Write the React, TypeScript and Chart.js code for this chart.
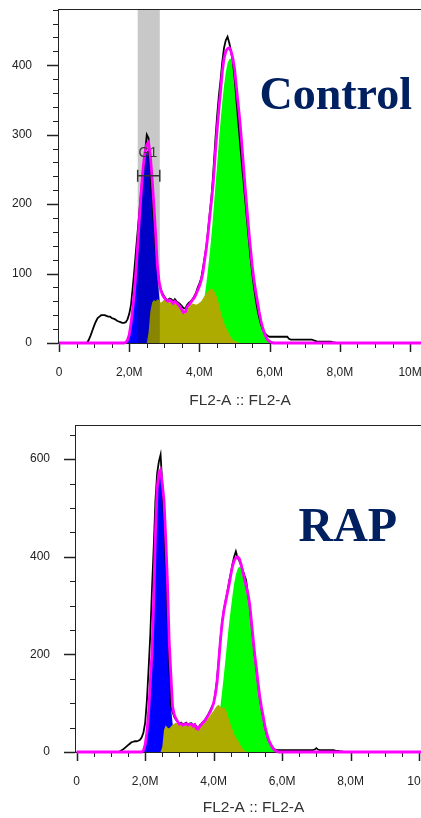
import { useEffect, useRef } from 'react';
import { Chart, registerables } from 'chart.js';

Chart.register(...registerables);

// FL2-A channel bins (millions), 0.05M wide
const FL2_BINS = [
  0.5, 0.55, 0.6, 0.65, 0.7, 0.75, 0.8, 0.85, 0.9, 0.95,
  1.0, 1.05, 1.1, 1.15, 1.2, 1.25, 1.3, 1.35, 1.4, 1.45,
  1.5, 1.55, 1.6, 1.65, 1.7, 1.75, 1.8, 1.85, 1.9, 1.95,
  2.0, 2.05, 2.1, 2.15, 2.2, 2.25, 2.3, 2.35, 2.4, 2.45,
  2.5, 2.55, 2.6, 2.65, 2.7, 2.75, 2.8, 2.85, 2.9, 2.95,
  3.0, 3.05, 3.1, 3.15, 3.2, 3.25, 3.3, 3.35, 3.4, 3.45,
  3.5, 3.55, 3.6, 3.65, 3.7, 3.75, 3.8, 3.85, 3.9, 3.95,
  4.0, 4.05, 4.1, 4.15, 4.2, 4.25, 4.3, 4.35, 4.4, 4.45,
  4.5, 4.55, 4.6, 4.65, 4.7, 4.75, 4.8, 4.85, 4.9, 4.95,
  5.0, 5.05, 5.1, 5.15, 5.2, 5.25, 5.3, 5.35, 5.4, 5.45,
  5.5, 5.55, 5.6, 5.65, 5.7, 5.75, 5.8, 5.85, 5.9, 5.95,
  6.0, 6.05, 6.1, 6.15, 6.2, 6.25, 6.3, 6.35, 6.4, 6.45,
  6.5, 6.55, 6.6, 6.65, 6.7, 6.75, 6.8, 6.85, 6.9, 6.95,
  7.0, 7.05, 7.1, 7.15, 7.2, 7.25, 7.3, 7.35, 7.4, 7.45,
  7.5, 7.55, 7.6, 7.65, 7.7, 7.75, 7.8, 7.85, 7.9, 7.95,
];
// empty channels at both ends of the axis
const EMPTY_EDGE_BINS = [0, 10.5];

// ---------- Control ----------
const CONTROL_RAW = [
  0, 0, 0, 0, 0, 0, 0, 5, 11, 18,
  25, 31, 36, 38, 40, 40, 40, 39, 38, 38,
  36, 35, 34, 32, 31, 30, 29, 29, 30, 34,
  42, 55, 80, 108, 138, 167, 196, 225, 250, 275,
  300, 295, 245, 205, 170, 135, 108, 87, 77, 71,
  67, 63, 62, 64, 63, 60, 63, 60, 58, 56,
  53, 50, 50, 55, 58, 60, 63, 67, 72, 80,
  86, 93, 108, 124, 140, 165, 190, 215, 250, 290,
  325, 355, 378, 405, 425, 436, 441, 432, 420, 405,
  382, 352, 321, 292, 263, 236, 208, 180, 152, 125,
  102, 82, 64, 49, 37, 27, 20, 15, 12, 10,
  9, 9, 9, 9, 9, 9, 9, 9, 9, 9,
  9, 6, 5, 5, 5, 5, 5, 5, 5, 5,
  5, 5, 5, 5, 5, 4, 3, 2, 2, 2,
  2, 2, 2, 2, 2, 2, 1, 1, 0, 0,
];
const CONTROL_FIT = [
  0, 0, 0, 0, 0, 0, 0, 0, 0, 0,
  0, 0, 0, 0, 0, 0, 0, 0, 0, 0,
  0, 0, 0, 0, 0, 0, 0, 0, 1, 4,
  12, 28, 50, 76, 110, 148, 188, 224, 255, 275,
  286, 289, 270, 238, 200, 158, 112, 88, 76, 69,
  65, 62, 60, 62, 60, 57, 60, 58, 55, 52,
  48, 44, 45, 52, 55, 58, 62, 65, 70, 76,
  82, 90, 102, 120, 138, 160, 185, 208, 235, 272,
  305, 335, 362, 390, 410, 420, 424, 425, 420, 410,
  395, 370, 345, 321, 290, 258, 225, 195, 165, 138,
  112, 92, 75, 60, 45, 32, 22, 14, 8, 4,
  2, 1, 0, 0, 0, 0, 0, 0, 0, 0,
  0, 0, 0, 0, 0, 0, 0, 0, 0, 0,
  0, 0, 0, 0, 0, 0, 0, 0, 0, 0,
  0, 0, 0, 0, 0, 0, 0, 0, 0, 0,
];
const CONTROL_G1 = [
  0, 0, 0, 0, 0, 0, 0, 0, 0, 0,
  0, 0, 0, 0, 0, 0, 0, 0, 0, 0,
  0, 0, 0, 0, 0, 0, 0, 0, 1, 3,
  10, 24, 45, 70, 104, 140, 180, 215, 245, 265,
  276, 278, 258, 222, 180, 138, 100, 68, 44, 26,
  14, 7, 3, 1, 0, 0, 0, 0, 0, 0,
  0, 0, 0, 0, 0, 0, 0, 0, 0, 0,
  0, 0, 0, 0, 0, 0, 0, 0, 0, 0,
  0, 0, 0, 0, 0, 0, 0, 0, 0, 0,
  0, 0, 0, 0, 0, 0, 0, 0, 0, 0,
  0, 0, 0, 0, 0, 0, 0, 0, 0, 0,
  0, 0, 0, 0, 0, 0, 0, 0, 0, 0,
  0, 0, 0, 0, 0, 0, 0, 0, 0, 0,
  0, 0, 0, 0, 0, 0, 0, 0, 0, 0,
  0, 0, 0, 0, 0, 0, 0, 0, 0, 0,
];
const CONTROL_S = [
  0, 0, 0, 0, 0, 0, 0, 0, 0, 0,
  0, 0, 0, 0, 0, 0, 0, 0, 0, 0,
  0, 0, 0, 0, 0, 0, 0, 0, 0, 0,
  0, 0, 0, 0, 0, 0, 0, 0, 0, 0,
  0, 15, 45, 58, 62, 60, 63, 62, 58, 60,
  63, 60, 58, 60, 58, 55, 58, 56, 53, 50,
  46, 42, 43, 48, 52, 55, 57, 56, 55, 56,
  58, 60, 64, 68, 72, 75, 77, 79, 76, 72,
  66, 57, 46, 37, 29, 23, 18, 13, 8, 5,
  3, 2, 1, 0, 0, 0, 0, 0, 0, 0,
  0, 0, 0, 0, 0, 0, 0, 0, 0, 0,
  0, 0, 0, 0, 0, 0, 0, 0, 0, 0,
  0, 0, 0, 0, 0, 0, 0, 0, 0, 0,
  0, 0, 0, 0, 0, 0, 0, 0, 0, 0,
  0, 0, 0, 0, 0, 0, 0, 0, 0, 0,
];
const CONTROL_G2 = [
  0, 0, 0, 0, 0, 0, 0, 0, 0, 0,
  0, 0, 0, 0, 0, 0, 0, 0, 0, 0,
  0, 0, 0, 0, 0, 0, 0, 0, 0, 0,
  0, 0, 0, 0, 0, 0, 0, 0, 0, 0,
  0, 0, 0, 0, 0, 0, 0, 0, 0, 0,
  0, 0, 0, 0, 0, 0, 0, 0, 0, 0,
  0, 0, 0, 3, 5, 6, 8, 11, 16, 22,
  30, 40, 53, 68, 87, 109, 133, 160, 191, 224,
  255, 288, 319, 347, 371, 390, 403, 409, 409, 401,
  387, 367, 341, 312, 281, 249, 216, 185, 155, 127,
  104, 82, 65, 50, 38, 28, 20, 15, 10, 7,
  5, 3, 2, 1, 0, 0, 0, 0, 0, 0,
  0, 0, 0, 0, 0, 0, 0, 0, 0, 0,
  0, 0, 0, 0, 0, 0, 0, 0, 0, 0,
  0, 0, 0, 0, 0, 0, 0, 0, 0, 0,
];

// ---------- RAP ----------
const RAP_RAW = [
  0, 0, 0, 0, 0, 0, 0, 0, 0, 0,
  0, 0, 0, 0, 0, 1, 3, 5, 8, 11,
  14, 17, 20, 21, 22, 22, 23, 25, 30, 40,
  60, 105, 170, 240, 335, 420, 515, 571, 595, 609,
  548, 475, 385, 290, 188, 96, 82, 72, 66, 62,
  58, 60, 57, 58, 60, 56, 58, 59, 55, 57,
  52, 48, 55, 58, 62, 66, 72, 78, 85, 93,
  100, 120, 150, 190, 232, 268, 292, 310, 328, 348,
  366, 385, 400, 411, 398, 392, 383, 373, 362, 352,
  325, 302, 268, 232, 198, 168, 138, 110, 88, 70,
  50, 37, 25, 18, 12, 8, 5, 4, 4, 4,
  4, 4, 4, 4, 4, 4, 4, 4, 4, 4,
  4, 4, 4, 4, 4, 4, 4, 4, 4, 5,
  8, 5, 4, 4, 4, 4, 4, 4, 4, 4,
  4, 3, 2, 2, 1, 1, 0, 0, 0, 0,
];
const RAP_FIT = [
  0, 0, 0, 0, 0, 0, 0, 0, 0, 0,
  0, 0, 0, 0, 0, 0, 0, 0, 0, 0,
  0, 0, 0, 0, 0, 0, 0, 0, 0, 3,
  15, 40, 80, 143, 205, 312, 448, 540, 572, 578,
  550, 515, 440, 350, 230, 160, 93, 76, 68, 62,
  57, 58, 55, 57, 58, 55, 57, 57, 53, 56,
  48, 47, 53, 57, 61, 65, 70, 76, 82, 90,
  100, 118, 142, 185, 230, 265, 290, 308, 325, 342,
  362, 380, 392, 398, 400, 396, 385, 370, 355, 340,
  325, 305, 270, 235, 200, 172, 140, 112, 90, 72,
  52, 38, 26, 18, 11, 6, 3, 1, 0, 0,
  0, 0, 0, 0, 0, 0, 0, 0, 0, 0,
  0, 0, 0, 0, 0, 0, 0, 0, 0, 0,
  0, 0, 0, 0, 0, 0, 0, 0, 0, 0,
  0, 0, 0, 0, 0, 0, 0, 0, 0, 0,
];
const RAP_G1 = [
  0, 0, 0, 0, 0, 0, 0, 0, 0, 0,
  0, 0, 0, 0, 0, 0, 0, 0, 0, 0,
  0, 0, 0, 0, 0, 0, 0, 0, 0, 2,
  10, 35, 72, 135, 198, 300, 435, 530, 565, 570,
  540, 480, 395, 280, 185, 95, 60, 32, 15, 6,
  2, 0, 0, 0, 0, 0, 0, 0, 0, 0,
  0, 0, 0, 0, 0, 0, 0, 0, 0, 0,
  0, 0, 0, 0, 0, 0, 0, 0, 0, 0,
  0, 0, 0, 0, 0, 0, 0, 0, 0, 0,
  0, 0, 0, 0, 0, 0, 0, 0, 0, 0,
  0, 0, 0, 0, 0, 0, 0, 0, 0, 0,
  0, 0, 0, 0, 0, 0, 0, 0, 0, 0,
  0, 0, 0, 0, 0, 0, 0, 0, 0, 0,
  0, 0, 0, 0, 0, 0, 0, 0, 0, 0,
  0, 0, 0, 0, 0, 0, 0, 0, 0, 0,
];
const RAP_S = [
  0, 0, 0, 0, 0, 0, 0, 0, 0, 0,
  0, 0, 0, 0, 0, 0, 0, 0, 0, 0,
  0, 0, 0, 0, 0, 0, 0, 0, 0, 0,
  0, 0, 0, 0, 0, 0, 0, 0, 0, 0,
  10, 45, 55, 50, 48, 52, 56, 58, 60, 58,
  55, 56, 53, 55, 56, 53, 55, 55, 51, 54,
  46, 45, 51, 55, 58, 62, 66, 70, 75, 80,
  84, 90, 95, 97, 92, 90, 92, 88, 78, 66,
  56, 46, 37, 30, 25, 19, 12, 7, 3, 1,
  0, 0, 0, 0, 0, 0, 0, 0, 0, 0,
  0, 0, 0, 0, 0, 0, 0, 0, 0, 0,
  0, 0, 0, 0, 0, 0, 0, 0, 0, 0,
  0, 0, 0, 0, 0, 0, 0, 0, 0, 0,
  0, 0, 0, 0, 0, 0, 0, 0, 0, 0,
  0, 0, 0, 0, 0, 0, 0, 0, 0, 0,
];
const RAP_G2 = [
  0, 0, 0, 0, 0, 0, 0, 0, 0, 0,
  0, 0, 0, 0, 0, 0, 0, 0, 0, 0,
  0, 0, 0, 0, 0, 0, 0, 0, 0, 0,
  0, 0, 0, 0, 0, 0, 0, 0, 0, 0,
  0, 0, 0, 0, 0, 0, 0, 0, 0, 0,
  0, 0, 0, 0, 0, 0, 0, 0, 0, 0,
  0, 0, 1, 2, 3, 5, 8, 12, 17, 24,
  33, 44, 58, 75, 95, 125, 158, 192, 228, 262,
  292, 320, 345, 363, 375, 380, 378, 368, 350, 330,
  318, 298, 265, 230, 196, 168, 137, 109, 87, 69,
  50, 36, 24, 16, 10, 5, 2, 1, 0, 0,
  0, 0, 0, 0, 0, 0, 0, 0, 0, 0,
  0, 0, 0, 0, 0, 0, 0, 0, 0, 0,
  0, 0, 0, 0, 0, 0, 0, 0, 0, 0,
  0, 0, 0, 0, 0, 0, 0, 0, 0, 0,
];

// ---------- axes ----------
const X_MAJOR = [0, 2, 4, 6, 8, 10];
const X_LABELS = ['0', '2,0M', '4,0M', '6,0M', '8,0M', '10M'];
const X_MINOR = [0.5, 1, 1.5, 2.5, 3, 3.5, 4.5, 5, 5.5, 6.5, 7, 7.5, 8.5, 9, 9.5];
const CONTROL_Y_MAJOR = [0, 100, 200, 300, 400];
const CONTROL_Y_MINOR = [20, 40, 60, 80, 120, 140, 160, 180, 220, 240, 260, 280, 320, 340, 360, 380, 420, 440, 460, 480];
const RAP_Y_MAJOR = [0, 200, 400, 600];
const RAP_Y_MINOR = [50, 100, 150, 250, 300, 350, 450, 500, 550, 650];
const AXIS_TITLE = 'FL2-A :: FL2-A';

// G1 gate of the control sample
const G1_GATE = [2.24, 2.87];
const G1_LABEL = 'G1';
const G1_LABEL_AT = [2.53, 274];
const G1_BRACKET_Y = 241;

const COLORS = {
  raw: '#000000',
  fit: '#ff00ff',
  g1: '#0000ff',
  s: '#adab00',
  g2: '#00ff00',
  axis: '#222222',
  text: '#222222',
  name: '#002060',
  gate: '#c8c8c8',
};
const SANS = '"Liberation Sans", Arial, sans-serif';
const SERIF = '"Liberation Serif", "Times New Roman", serif';

type Panel = {
  name: string;
  nameX: number;
  nameY: number;
  nameSize: number;
  raw: number[];
  fit: number[];
  g1: number[];
  s: number[];
  g2: number[];
  yMajor: number[];
  yMinor: number[];
  yMax: number;
  xMin: number;
  xMax: number;
  width: number;
  height: number;
  areaLeft: number;
  areaTop: number;
  xAxisHeight: number;
  yLabelPad: number;
  titlePad: number;
  gate: boolean;
};

const PANELS: Panel[] = [
  {
    name: 'Control', nameX: 259.5, nameY: 109, nameSize: 46,
    raw: CONTROL_RAW, fit: CONTROL_FIT, g1: CONTROL_G1, s: CONTROL_S, g2: CONTROL_G2,
    yMajor: CONTROL_Y_MAJOR, yMinor: CONTROL_Y_MINOR, yMax: 481,
    xMin: -0.03, xMax: 10.34,
    width: 422, height: 410, areaLeft: 58, areaTop: 9, xAxisHeight: 67,
    yLabelPad: 18, titlePad: 0, gate: true,
  },
  {
    name: 'RAP', nameX: 298.5, nameY: 131, nameSize: 48,
    raw: RAP_RAW, fit: RAP_FIT, g1: RAP_G1, s: RAP_S, g2: RAP_G2,
    yMajor: RAP_Y_MAJOR, yMinor: RAP_Y_MINOR, yMax: 670,
    xMin: -0.05, xMax: 10.38,
    width: 432, height: 408, areaLeft: 75, areaTop: 15, xAxisHeight: 66,
    yLabelPad: 17, titlePad: 1, gate: false,
  },
];

function toPoints(values: number[]) {
  const pts = FL2_BINS.map((x, i) => ({ x, y: values[i] }));
  return [{ x: EMPTY_EDGE_BINS[0], y: 0 }, ...pts, { x: EMPTY_EDGE_BINS[1], y: 0 }];
}

const S_INDEX = 2;

function makeDecor(p: Panel) {
  return {
    id: 'facsDecor',
    beforeDatasetsDraw(chart: any) {
      const { ctx, chartArea: a, scales } = chart;
      const xs = scales.x;
      const ys = scales.y;
      ctx.save();
      ctx.strokeStyle = COLORS.axis;
      ctx.lineWidth = 1;
      ctx.beginPath();
      ctx.moveTo(a.left, a.top + 0.5);
      ctx.lineTo(a.right, a.top + 0.5);
      ctx.moveTo(a.left + 0.5, a.top);
      ctx.lineTo(a.left + 0.5, a.bottom + 1);
      ctx.moveTo(a.left, a.bottom + 0.5);
      ctx.lineTo(a.right, a.bottom + 0.5);
      ctx.stroke();
      // y ticks
      ctx.lineWidth = 1.5;
      ctx.beginPath();
      for (const v of p.yMajor) {
        const py = Math.round(ys.getPixelForValue(v)) + 0.5;
        ctx.moveTo(a.left - 11, py);
        ctx.lineTo(a.left, py);
      }
      ctx.stroke();
      ctx.lineWidth = 1;
      ctx.beginPath();
      for (const v of p.yMinor) {
        if (v > p.yMax) continue;
        const py = Math.round(ys.getPixelForValue(v)) + 0.5;
        ctx.moveTo(a.left - 5, py);
        ctx.lineTo(a.left, py);
      }
      ctx.stroke();
      // x ticks
      ctx.lineWidth = 1.5;
      ctx.beginPath();
      for (const v of X_MAJOR) {
        const px = Math.round(xs.getPixelForValue(v)) + 0.5;
        ctx.moveTo(px, a.bottom);
        ctx.lineTo(px, a.bottom + 9);
      }
      ctx.stroke();
      ctx.lineWidth = 1;
      ctx.beginPath();
      for (const v of X_MINOR) {
        const px = Math.round(xs.getPixelForValue(v)) + 0.5;
        ctx.moveTo(px, a.bottom);
        ctx.lineTo(px, a.bottom + 5);
      }
      ctx.stroke();
      ctx.restore();
    },
    afterDatasetDraw(chart: any, args: any) {
      if (!p.gate || args.index !== S_INDEX) return;
      const { ctx, chartArea: a, scales } = chart;
      const l = scales.x.getPixelForValue(G1_GATE[0]);
      const r = scales.x.getPixelForValue(G1_GATE[1]);
      ctx.save();
      ctx.globalCompositeOperation = 'multiply';
      ctx.fillStyle = COLORS.gate;
      ctx.fillRect(l, a.top + 1, r - l, a.bottom - a.top - 1);
      ctx.restore();
    },
    afterDatasetsDraw(chart: any) {
      const { ctx, scales } = chart;
      ctx.save();
      if (p.gate) {
        const l = scales.x.getPixelForValue(G1_GATE[0]);
        const r = scales.x.getPixelForValue(G1_GATE[1]);
        const by = scales.y.getPixelForValue(G1_BRACKET_Y);
        ctx.strokeStyle = '#333333';
        ctx.lineWidth = 1.5;
        ctx.beginPath();
        ctx.moveTo(l, by);
        ctx.lineTo(r, by);
        ctx.moveTo(l, by - 6);
        ctx.lineTo(l, by + 6);
        ctx.moveTo(r, by - 6);
        ctx.lineTo(r, by + 6);
        ctx.stroke();
        ctx.fillStyle = '#3c3632';
        ctx.font = `14px ${SANS}`;
        ctx.textAlign = 'center';
        ctx.textBaseline = 'middle';
        ctx.fillText(
          G1_LABEL,
          scales.x.getPixelForValue(G1_LABEL_AT[0]),
          scales.y.getPixelForValue(G1_LABEL_AT[1])
        );
      }
      ctx.fillStyle = COLORS.name;
      ctx.font = `bold ${p.nameSize}px ${SERIF}`;
      ctx.textAlign = 'left';
      ctx.textBaseline = 'alphabetic';
      ctx.fillText(p.name, p.nameX, p.nameY);
      ctx.restore();
    },
  };
}

function FacsPanel({ p }: { p: Panel }) {
  const ref = useRef<HTMLCanvasElement | null>(null);
  useEffect(() => {
    if (!ref.current) return;
    const lineBase = { pointRadius: 0, tension: 0, fill: false, clip: false as any };
    const fillBase = { pointRadius: 0, tension: 0, borderWidth: 0, fill: 'origin' };
    const chart = new Chart(ref.current, {
      type: 'line',
      data: {
        datasets: [
          { ...lineBase, label: 'Fit', data: toPoints(p.fit), borderColor: COLORS.fit, borderWidth: 2.8, order: 0 },
          { ...lineBase, label: 'Raw', data: toPoints(p.raw), borderColor: COLORS.raw, borderWidth: 1.8, order: 1 },
          { ...fillBase, label: 'S', data: toPoints(p.s), backgroundColor: COLORS.s, borderColor: COLORS.s, order: 2 },
          { ...fillBase, label: 'G1', data: toPoints(p.g1), backgroundColor: COLORS.g1, borderColor: COLORS.g1, order: 3 },
          { ...fillBase, label: 'G2', data: toPoints(p.g2), backgroundColor: COLORS.g2, borderColor: COLORS.g2, order: 4 },
        ] as any,
      },
      options: {
        responsive: false,
        animation: false,
        events: [],
        layout: { padding: { top: p.areaTop, left: 0, right: 0, bottom: 0 } },
        plugins: { legend: { display: false }, tooltip: { enabled: false } },
        scales: {
          x: {
            type: 'linear',
            min: p.xMin,
            max: p.xMax,
            grid: { display: false },
            border: { display: false },
            afterBuildTicks: (s: any) => {
              s.ticks = X_MAJOR.map((v) => ({ value: v }));
            },
            afterFit: (s: any) => {
              s.height = p.xAxisHeight;
              s.paddingLeft = 0;
              s.paddingRight = 0;
            },
            ticks: {
              autoSkip: false,
              maxRotation: 0,
              padding: 14,
              color: COLORS.text,
              font: { family: SANS, size: 12 },
              callback: (v: any) => {
                const i = X_MAJOR.indexOf(Number(v));
                return i >= 0 ? X_LABELS[i] : '';
              },
            },
            title: {
              display: true,
              text: AXIS_TITLE,
              color: '#333333',
              font: { family: SANS, size: 15.5 },
              padding: { top: 0, bottom: p.titlePad },
            },
          },
          y: {
            type: 'linear',
            min: 0,
            max: p.yMax,
            grid: { display: false },
            border: { display: false },
            afterBuildTicks: (s: any) => {
              s.ticks = p.yMajor.map((v) => ({ value: v }));
            },
            afterFit: (s: any) => {
              s.width = p.areaLeft;
              s.paddingTop = 0;
              s.paddingBottom = 0;
            },
            ticks: {
              padding: p.yLabelPad,
              color: COLORS.text,
              font: { family: SANS, size: 12 },
            },
          },
        },
      } as any,
      plugins: [makeDecor(p) as any],
    });
    return () => chart.destroy();
  }, [p]);
  return <canvas ref={ref} width={p.width} height={p.height} style={{ display: 'block' }} />;
}

export default function App() {
  return (
    <div
      style={{
        position: 'absolute',
        left: 0,
        top: 0,
        width: 421,
        height: 818,
        overflow: 'hidden',
        background: '#ffffff',
      }}
    >
      <div style={{ position: 'absolute', left: 0, top: 0 }}>
        <FacsPanel p={PANELS[0]} />
      </div>
      <div style={{ position: 'absolute', left: 0, top: 410 }}>
        <FacsPanel p={PANELS[1]} />
      </div>
    </div>
  );
}
